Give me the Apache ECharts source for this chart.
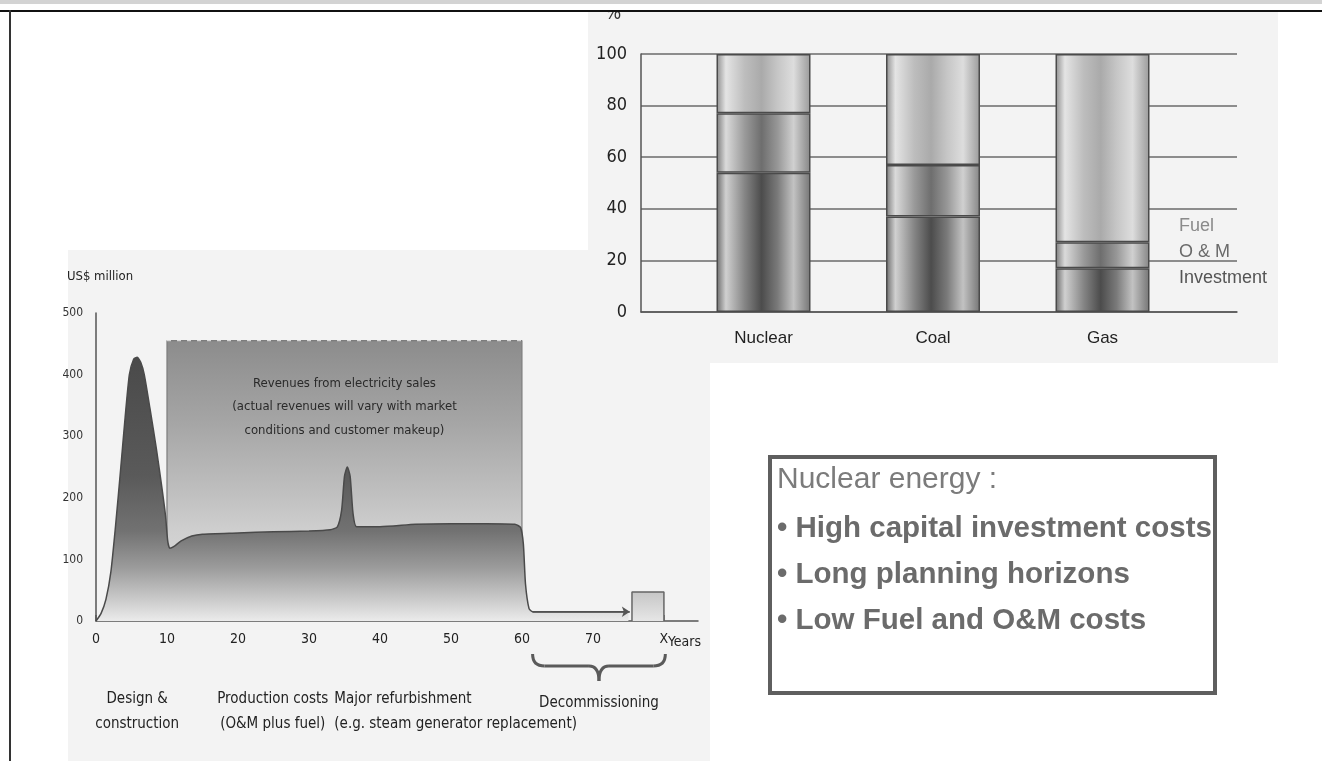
<!DOCTYPE html>
<html><head><meta charset="utf-8">
<script src="https://cdn.jsdelivr.net/npm/echarts@6/dist/echarts.min.js"></script>
<style>html,body{margin:0;padding:0;background:#fff}#c{width:1322px;height:763px}</style>
</head><body><div id="c"></div><script>
const NARROW = "'Liberation Sans Narrow','DejaVu Sans Condensed',sans-serif";
const SANS = "'Liberation Sans',Arial,sans-serif";

// ---- Right chart: share of generating cost (%) ----
const barCategories = ['Nuclear', 'Coal', 'Gas'];
const investmentShare = [54, 37, 17];
const omShare = [23, 20, 10];
const fuelShare = [23, 43, 73];
const legendLabels = ['Fuel', 'O & M', 'Investment'];

// ---- Left chart: lifetime cash flow (US$ million) ----
const costYears  = [0, 0.7, 1.4, 2.1, 2.8, 3.5, 4.1, 4.7, 5.3, 5.8, 6.3, 6.8, 7.6, 8.5, 9.3, 9.8, 10.1, 10.4, 11, 12, 13.5, 15, 20, 25, 30, 33, 34, 34.6, 35, 35.4, 35.8, 36.2, 36.7, 40, 45, 50, 55, 59, 59.8, 60.2, 60.5, 61, 61.5, 75];
const costValues = [0, 12, 35, 80, 160, 250, 330, 400, 425, 428, 420, 400, 345, 280, 215, 170, 130, 118, 121, 130, 138, 141, 143, 145, 146, 148, 153, 180, 235, 250, 235, 175, 153, 153, 157, 158, 158, 157, 152, 125, 60, 20, 15, 15];
const revenueYears = [10, 60];
const revenueLevel = 455;
const decomYears = [75.5, 80];
const decomLevel = 47;
const yearTicks = [0, 10, 20, 30, 40, 50, 60, 70, 80];
const yearTickLabels = ['0', '10', '20', '30', '40', '50', '60', '70', 'X'];
const moneyGridValues = [100, 200, 300, 400, 500];
const annotationYears = [5.8, 24.9, 35.4];
const annotationTops = [428, 145, 250];
const annotationTexts = ['Design &\nconstruction', 'Production costs\n(O&M plus fuel)', 'Major refurbishment\n(e.g. steam generator replacement)'];
const revenueText = 'Revenues from electricity sales\n(actual revenues will vary with market\nconditions and customer makeup)';
const bulletTitle = 'Nuclear energy :';
const bulletLines = ['• High capital investment costs', '• Long planning horizons', '• Low Fuel and O&M costs'];

function hGrad(stops) { return { type: 'linear', x: 0, y: 0, x2: 1, y2: 0, colorStops: stops.map(s => ({ offset: s[0], color: s[1] })) }; }
function vGrad(stops) { return { type: 'linear', x: 0, y: 0, x2: 0, y2: 1, colorStops: stops.map(s => ({ offset: s[0], color: s[1] })) }; }

const fuelFill = hGrad([[0, '#8e8e8e'], [0.1, '#e4e4e4'], [0.3, '#bdbdbd'], [0.48, '#aaaaaa'], [0.65, '#c6c6c6'], [0.82, '#dddddd'], [1, '#9a9a9a']]);
const omFill = hGrad([[0, '#7a7a7a'], [0.1, '#dadada'], [0.3, '#9a9a9a'], [0.48, '#6e6e6e'], [0.65, '#979797'], [0.82, '#d0d0d0'], [1, '#858585']]);
const invFill = hGrad([[0, '#6a6a6a'], [0.1, '#d0d0d0'], [0.3, '#858585'], [0.48, '#4c4c4c'], [0.65, '#7a7a7a'], [0.82, '#c2c2c2'], [1, '#757575']]);

function barSeries(name, vals, fill) {
  return {
    name, type: 'bar', xAxisIndex: 2, yAxisIndex: 2, stack: 'share', barWidth: 94, z: 7,
    data: vals, itemStyle: { color: fill, borderColor: '#4a4a4a', borderWidth: 1.5 }, silent: true
  };
}

const chart = echarts.init(document.getElementById('c'));
chart.setOption({
  animation: false,
  backgroundColor: '#ffffff',
  grid: [
    { left: 96, right: 624, top: 313, bottom: 142 },
    { left: 641, right: 85, top: 54, bottom: 451 },
    { left: 678.75, right: 134.75, top: 54, bottom: 451 }
  ],
  xAxis: [
    { gridIndex: 0, type: 'value', min: 0, max: 84.8, z: 1,
      axisLine: { show: true, lineStyle: { color: '#555', width: 1.5 } },
      axisTick: { show: true, inside: true, length: 6, customValues: yearTicks, lineStyle: { color: '#555', width: 1.5 } },
      axisLabel: { customValues: yearTicks, formatter: v => yearTickLabels[yearTicks.indexOf(Math.round(v))], margin: 11, fontSize: 14, fontFamily: NARROW, color: '#222' },
      splitLine: { show: false } },
    { gridIndex: 1, type: 'value', min: 0, max: 1, z: 6,
      axisLine: { show: true, lineStyle: { color: '#555', width: 1.5 } },
      axisTick: { show: false }, axisLabel: { show: false }, splitLine: { show: false } },
    { gridIndex: 2, type: 'category', data: barCategories, z: 6,
      axisLine: { show: false }, axisTick: { show: false },
      axisLabel: { margin: 18, fontSize: 17, fontFamily: SANS, color: '#222' },
      splitLine: { show: false } }
  ],
  yAxis: [
    { gridIndex: 0, type: 'value', min: 0, max: 500, interval: 100, z: 1,
      name: 'US$ million', nameLocation: 'end', nameGap: 30,
      nameTextStyle: { fontSize: 13, fontFamily: NARROW, color: '#222', align: 'center', padding: [0, 0, 0, 8] },
      axisLine: { show: true, lineStyle: { color: '#555', width: 1.5 } },
      axisTick: { show: false },
      axisLabel: { margin: 13, fontSize: 12, fontFamily: NARROW, color: '#333' },
      splitLine: { show: false } },
    { gridIndex: 1, type: 'value', min: 0, max: 100, interval: 20, z: 6,
      axisLine: { show: true, lineStyle: { color: '#555', width: 1.5 } },
      axisTick: { show: false },
      axisLabel: { margin: 14, fontSize: 18, fontFamily: NARROW, color: '#222' },
      splitLine: { show: true, lineStyle: { color: '#6a6a6a', width: 1.5 } } },
    { gridIndex: 2, type: 'value', min: 0, max: 100, show: false }
  ],
  series: [
    // gridlines of left chart
    { type: 'line', xAxisIndex: 0, yAxisIndex: 0, z: 1, clip: false, data: [[0, 0]], symbol: 'none', lineStyle: { opacity: 0 }, silent: true,
      markLine: { silent: true, symbol: 'none', label: { show: false }, lineStyle: { color: '#6e6e6e', width: 1.5, type: 'solid' },
        data: moneyGridValues.map(v => [{ coord: [-1.27, v] }, { coord: [yearTicks[yearTicks.length - 1], v] }]) } },
    // revenue block
    { type: 'line', xAxisIndex: 0, yAxisIndex: 0, z: 2, symbol: 'none', silent: true,
      data: [[revenueYears[0], 0], [revenueYears[0], revenueLevel], [revenueYears[1], revenueLevel], [revenueYears[1], 0]],
      lineStyle: { color: '#7d7d7d', width: 1.2 },
      areaStyle: { opacity: 1, color: vGrad([[0, '#8c8c8c'], [0.3, '#a6a6a6'], [0.55, '#c0c0c0'], [0.68, '#cfcfcf'], [1, '#e2e2e2']]) } },
    { type: 'line', xAxisIndex: 0, yAxisIndex: 0, z: 3, symbol: 'none', silent: true,
      data: [[revenueYears[0], revenueLevel], [revenueYears[1], revenueLevel]],
      lineStyle: { color: '#d8d8d8', width: 1.2, type: [4, 6] } },
    // production cost curve
    { type: 'line', xAxisIndex: 0, yAxisIndex: 0, z: 3, symbol: 'none', silent: true, smooth: 0.2,
      data: costYears.map((x, i) => [x, costValues[i]]),
      lineStyle: { color: '#4a4a4a', width: 1.5 },
      areaStyle: { opacity: 1, color: vGrad([[0, '#4a4a4a'], [0.45, '#5a5a5a'], [0.66, '#727272'], [0.8, '#9c9c9c'], [0.92, '#cbcbcb'], [1, '#ebebeb']]) } },
    // decommissioning block
    { type: 'line', xAxisIndex: 0, yAxisIndex: 0, z: 3, symbol: 'none', silent: true,
      data: [[decomYears[0], 0], [decomYears[0], decomLevel], [decomYears[1], decomLevel], [decomYears[1], 0]],
      lineStyle: { color: '#666', width: 1.5 },
      areaStyle: { opacity: 1, color: vGrad([[0, '#c6c6c6'], [1, '#e6e6e6']]) } },
    // annotation arrows
    { type: 'line', xAxisIndex: 0, yAxisIndex: 0, z: 4, clip: false, data: [[0, 0]], symbol: 'none', lineStyle: { opacity: 0 }, silent: true,
      markLine: { silent: true, symbol: ['none', 'arrow'], symbolSize: 8, label: { show: false },
        lineStyle: { color: '#333', width: 1.5, type: 'solid' },
        data: annotationYears.map((x, i) => [{ coord: [x, -97] }, { coord: [x, annotationTops[i]] }])
          .concat([[{ coord: [61.5, 15], lineStyle: { color: '#555', width: 1.5 } }, { coord: [decomYears[0] - 0.3, 15] }]]) } },
    barSeries('Investment', investmentShare, invFill),
    barSeries('O & M', omShare, omFill),
    barSeries('Fuel', fuelShare, fuelFill)
  ]
});

// ---- graphic decorations (derived from axes where they relate to data) ----
const px = (x, y) => chart.convertToPixel({ xAxisIndex: 0, yAxisIndex: 0 }, [x, y]);
const g = [];
g.push({ type: 'rect', shape: { x: 68, y: 250, width: 642, height: 511 }, style: { fill: '#f3f3f3' }, z: 0 });
g.push({ type: 'rect', shape: { x: 588, y: 12, width: 690, height: 351 }, style: { fill: '#f3f3f3' }, z: 5 });

// revenue text
const rc = px((revenueYears[0] + revenueYears[1]) / 2, 0);
g.push({ type: 'text', x: rc[0], y: 407, z: 4, style: { text: revenueText, fontSize: 13, fontFamily: NARROW, fill: '#2a2a2a', align: 'center', verticalAlign: 'middle', lineHeight: 23.5 } });

// annotation labels
annotationYears.forEach((yr, i) => {
  const p = px(yr, 0);
  const left = i === 2;
  g.push({ type: 'text', x: left ? p[0] - 13 : p[0], y: 712, z: 4,
    style: { text: annotationTexts[i], fontSize: 15, fontFamily: NARROW, fill: '#222', align: left ? 'left' : 'center', verticalAlign: 'middle', lineHeight: 25 } });
});
// 'Years' after X
const xp = px(yearTicks[yearTicks.length - 1], 0);
g.push({ type: 'text', x: xp[0] + 4, y: 642, z: 4, style: { text: 'Years', fontSize: 14, fontFamily: NARROW, fill: '#222', align: 'left', verticalAlign: 'middle' } });

// decommissioning brace
const b0 = px(61.5, 0)[0], b1 = px(80.2, 0)[0], bm = (b0 + b1) / 2;
const y0 = 654, y1 = 666, y2 = 681;
const braceStyle = { fill: 'none', stroke: '#5a5a5a', lineWidth: 3 };
g.push({ type: 'bezierCurve', z: 4, shape: { x1: b0, y1: y0, cpx1: b0, cpy1: y1, x2: b0 + 12, y2: y1 }, style: braceStyle });
g.push({ type: 'line', z: 4, shape: { x1: b0 + 12, y1: y1, x2: bm - 10, y2: y1 }, style: braceStyle });
g.push({ type: 'bezierCurve', z: 4, shape: { x1: bm - 10, y1: y1, cpx1: bm, cpy1: y1, x2: bm, y2: y2 }, style: braceStyle });
g.push({ type: 'bezierCurve', z: 4, shape: { x1: bm, y1: y2, cpx1: bm, cpy1: y1, x2: bm + 10, y2: y1 }, style: braceStyle });
g.push({ type: 'line', z: 4, shape: { x1: bm + 10, y1: y1, x2: b1 - 12, y2: y1 }, style: braceStyle });
g.push({ type: 'bezierCurve', z: 4, shape: { x1: b1 - 12, y1: y1, cpx1: b1, cpy1: y1, x2: b1, y2: y0 }, style: braceStyle });
g.push({ type: 'text', x: bm, y: 703, z: 4, style: { text: 'Decommissioning', fontSize: 15, fontFamily: NARROW, fill: '#222', align: 'center', verticalAlign: 'middle' } });

// right chart legend labels and %
const legendY = [226, 252, 278];
const legendCol = ['#8a8a8a', '#6a6a6a', '#555'];
legendLabels.forEach((t, i) => g.push({ type: 'text', x: 1179, y: legendY[i], z: 8, style: { text: t, fontSize: 18, fontFamily: SANS, fill: legendCol[i], align: 'left', verticalAlign: 'middle' } }));
g.push({ type: 'text', x: 613, y: 24, z: 15, style: { text: '%', fontSize: 19, fontFamily: NARROW, fill: '#333', align: 'center', verticalAlign: 'bottom' } });

// text box
g.push({ type: 'rect', z: 8, shape: { x: 770, y: 457, width: 445, height: 236 }, style: { fill: '#fff', stroke: '#5f5f5f', lineWidth: 4 } });
g.push({ type: 'text', x: 777, y: 480, z: 9, style: { text: bulletTitle, fontSize: 30, fontFamily: SANS, fill: '#7b7b7b', align: 'left', verticalAlign: 'middle' } });
const bulletY = [529, 575, 621];
bulletLines.forEach((t, i) => g.push({ type: 'text', x: 777, y: bulletY[i], z: 9, style: { text: t, fontSize: 29.5, fontWeight: 'bold', fontFamily: SANS, fill: '#6b6b6b', align: 'left', verticalAlign: 'middle' } }));

// page frame
g.push({ type: 'rect', z: 20, shape: { x: 0, y: 0, width: 1322, height: 4 }, style: { fill: '#d3d3d3' } });
g.push({ type: 'rect', z: 20, shape: { x: 0, y: 4, width: 1322, height: 6 }, style: { fill: '#ffffff' } });
g.push({ type: 'rect', z: 21, shape: { x: 0, y: 10, width: 1322, height: 2 }, style: { fill: '#111' } });
g.push({ type: 'rect', z: 21, shape: { x: 9, y: 10, width: 2, height: 751 }, style: { fill: '#333' } });

chart.setOption({ graphic: g.map(e => Object.assign({ silent: true }, e)) });
</script></body></html>
